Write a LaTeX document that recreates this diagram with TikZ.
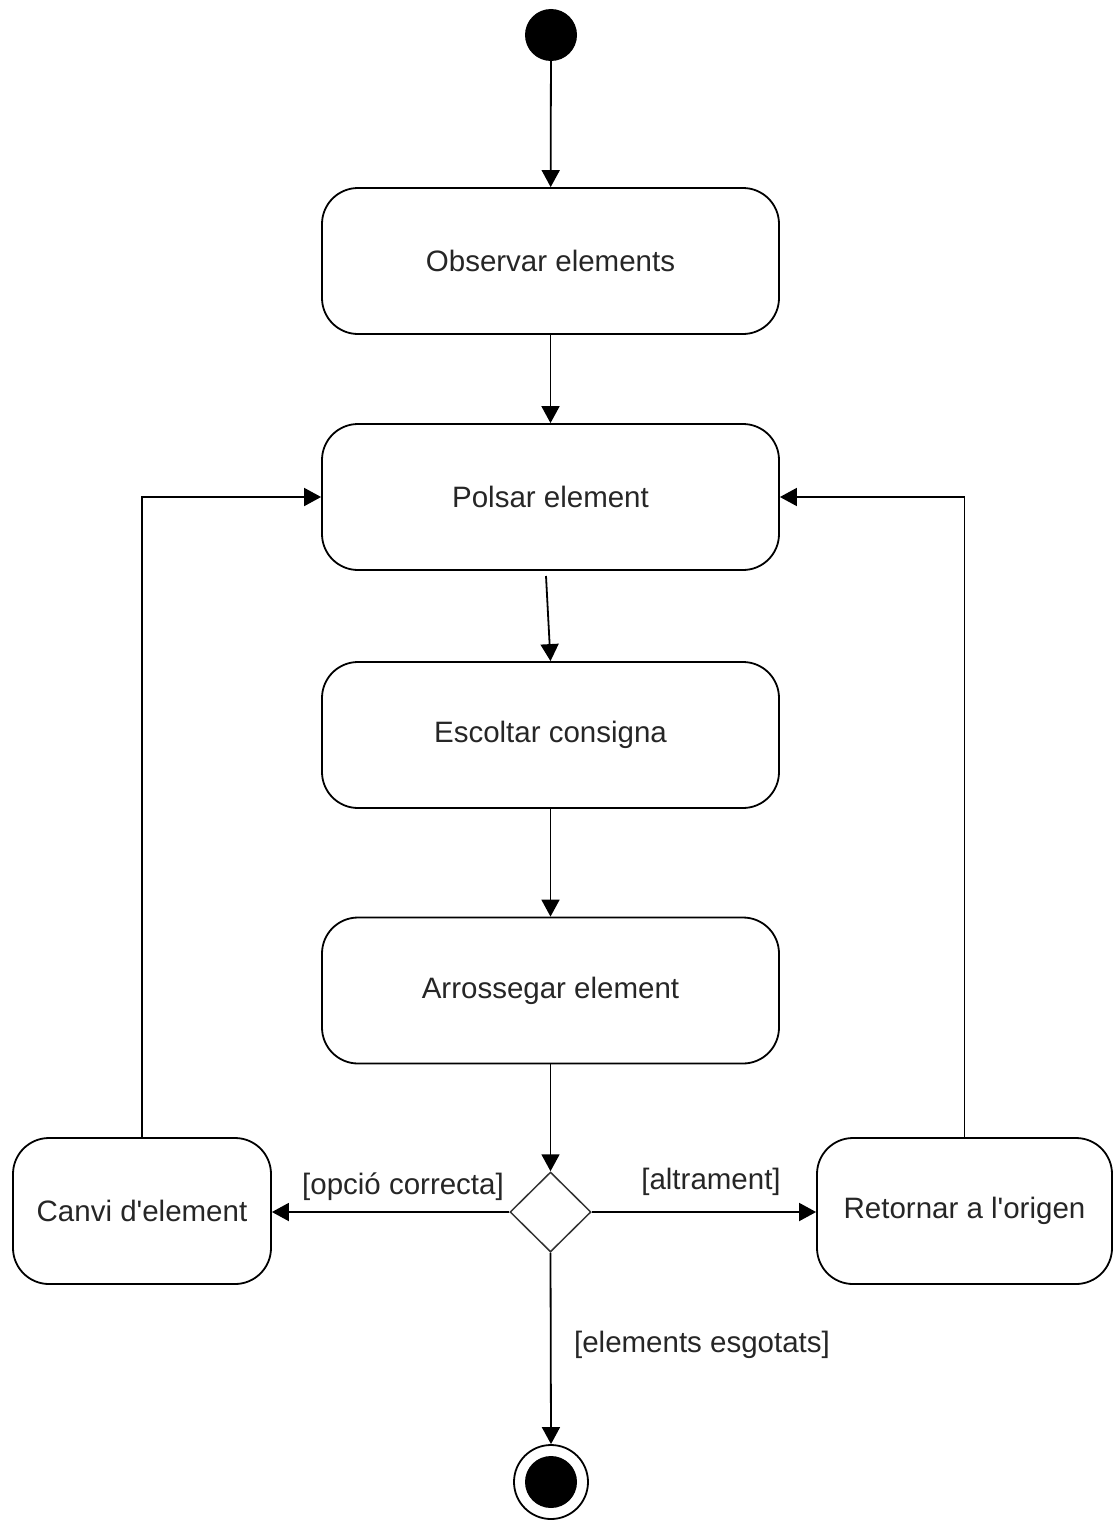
\documentclass[tikz,border=0pt]{standalone}
\usepackage{fontspec}
\setmainfont{Liberation Sans}
\usetikzlibrary{arrows.meta,shapes.geometric}
\begin{document}
\begin{tikzpicture}[x=1pt,y=-1pt,
  every node/.style={font=\fontsize{29.5}{34}\selectfont, text=black!85},
  activity/.style={draw, line width=1.8pt, rounded corners=36pt, minimum width=457pt, minimum height=146pt, inner sep=0pt},
  sidebox/.style={activity, minimum width=258pt},
  flow/.style={draw, line width=1.8pt, -{Triangle[length=17pt,width=18pt]}},
  guard/.style={inner sep=0pt}]
  \useasboundingbox (0,0) rectangle (1114,1520);

  % initial and final states
  \node (start) [circle, fill=black, minimum size=52pt, inner sep=0pt] at (551,35) {};
  \node (stop) [circle, draw, line width=1.8pt, minimum size=74pt, inner sep=0pt] at (551,1482) {};
  \node (stopdot) [circle, fill=black, minimum size=52pt, inner sep=0pt] at (551,1482) {};

  % activities
  \node (obs) [activity] at (550.5,261) {Observar elements};
  \node (pol) [activity] at (550.5,497) {Polsar element};
  \node (esc) [activity] at (550.5,735) {Escoltar consigna};
  \node (arr) [activity] at (550.5,990.5) {Arrossegar element};
  \node (canvi) [sidebox] at (142,1211) {Canvi d\textquotesingle element};
  \node (ret) [activity, minimum width=295pt] at (964.5,1211) {Retornar a l\textquotesingle origen};

  % decision
  \node (dec) [diamond, draw, line width=1.5pt, draw=black!80, minimum width=81pt, minimum height=80pt, inner sep=0pt] at (550.5,1212) {};

  % main flow
  \draw[flow] (start) -- (obs);
  \draw[flow] (obs) -- (pol);
  \coordinate (pbase) at (546,576);
  \draw[flow] (pbase) -- (esc.north);
  \draw[flow] (esc) -- (arr);
  \draw[flow] (arr) -- (dec);

  % branches
  \draw[flow] (dec.west) -- (canvi.east |- dec.west);
  \draw[flow] (dec.east) -- (ret.west |- dec.east);
  \draw[flow] (dec.south) -- (stop.north);

  % loops back to "Polsar element"
  \draw[flow] (canvi.north) |- (pol.west);
  \draw[flow] (ret.north) |- (pol.east);

  % guards
  \node (g1) [guard] at (403,1187) {[opció correcta]};
  \node (g2) [guard] at (711,1182) {[altrament]};
  \node (g3) [guard] at (702,1345) {[elements esgotats]};
\end{tikzpicture}
\end{document}
